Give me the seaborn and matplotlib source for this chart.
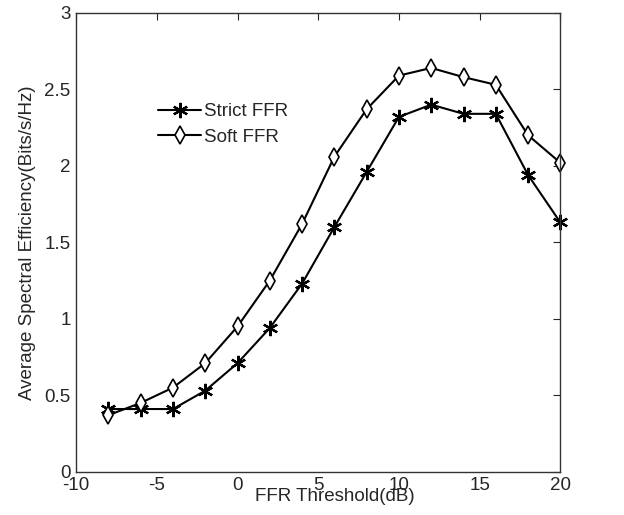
import matplotlib
matplotlib.use("Agg")
import matplotlib.pyplot as plt
import seaborn as sns
import pandas as pd

# Data
threshold = [-8, -6, -4, -2, 0, 2, 4, 6, 8, 10, 12, 14, 16, 18, 20]
strict_ffr = [0.41, 0.41, 0.41, 0.53, 0.71, 0.94, 1.23, 1.60, 1.96, 2.32, 2.40, 2.34, 2.34, 1.94, 1.63]
soft_ffr = [0.37, 0.45, 0.55, 0.71, 0.95, 1.25, 1.62, 2.06, 2.37, 2.59, 2.64, 2.58, 2.53, 2.20, 2.02]

df = pd.DataFrame({"Threshold": threshold, "Strict": strict_ffr, "Soft": soft_ffr})

sns.set_style("white")
plt.rcParams["font.family"] = ["Liberation Sans", "DejaVu Sans"]
plt.rcParams["axes.unicode_minus"] = False

fig = plt.figure(figsize=(6.24, 5.15), dpi=100)
ax = fig.add_axes([0.122, 0.084, 0.776, 0.891])

# Strict FFR - asterisk markers
sns.lineplot(data=df, x="Threshold", y="Strict", color="black", linewidth=1.5,
             marker=(6, 2, 0), markersize=11, markeredgecolor="black",
             markeredgewidth=1.6, label="Strict FFR", clip_on=False, ax=ax)

# Soft FFR - open diamonds
sns.lineplot(data=df, x="Threshold", y="Soft", color="black", linewidth=1.5,
             marker="d", markersize=9, markerfacecolor="white",
             markeredgecolor="black", markeredgewidth=1.2, label="Soft FFR",
             clip_on=False, ax=ax)

ax.set_xlim(-10, 20)
ax.set_ylim(0, 3)
ax.set_xticks([-10, -5, 0, 5, 10, 15, 20])
ax.set_yticks([0, 0.5, 1, 1.5, 2, 2.5, 3])
ax.set_yticklabels(["0", "0.5", "1", "1.5", "2", "2.5", "3"])
ax.tick_params(direction="in", top=True, right=True, labelsize=13.5, length=5, width=0.8)
ax.tick_params(axis="x", pad=4)
ax.tick_params(axis="y", pad=4)
for s in ax.spines.values():
    s.set_color("#333333")
    s.set_linewidth(1.0)

ax.set_xlabel("FFR Threshold(dB)", fontsize=13.5)
ax.xaxis.set_label_coords(0.535, -0.035)
ax.set_ylabel("Average Spectral Efficiency(Bits/s/Hz)", fontsize=13.5, labelpad=6)

ax.legend(loc="upper left", bbox_to_anchor=(0.135, 0.84), frameon=False,
          fontsize=13.5, handlelength=2.3, handletextpad=0.15, labelspacing=0.45)

fig.savefig("out.png", dpi=100)
